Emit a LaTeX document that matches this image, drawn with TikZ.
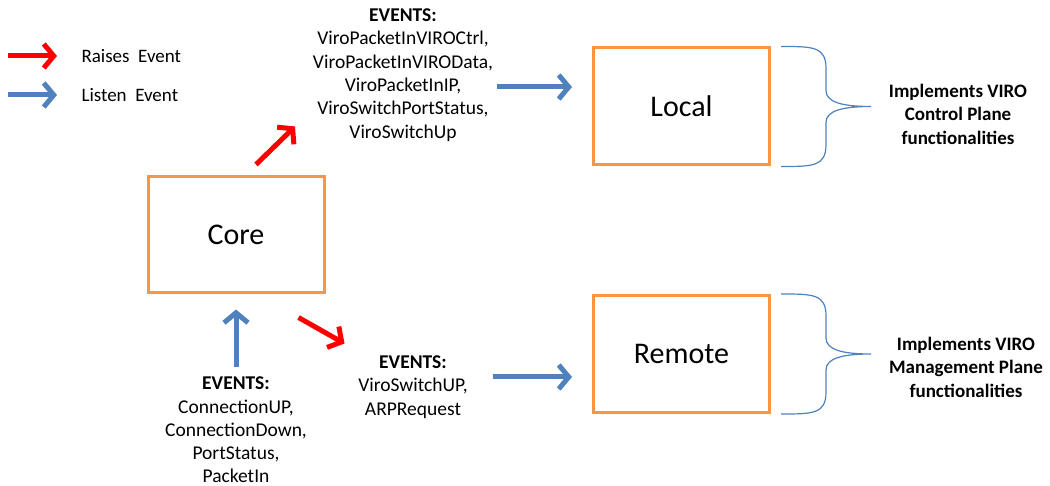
\documentclass[tikz,border=0pt]{standalone}
\usepackage{fontspec}
\setmainfont{Carlito}
\usetikzlibrary{arrows.meta,calc}
\definecolor{boxorange}{RGB}{247,150,70}
\definecolor{evblue}{RGB}{79,129,189}
\definecolor{evred}{RGB}{255,0,0}

\begin{document}
\begin{tikzpicture}[x=1pt,y=-1pt,
    module/.style={draw=boxorange, line width=3pt, minimum width=176pt,
      minimum height=117pt, font=\fontsize{30}{36}\selectfont},
    evlist/.style={align=center, font=\fontsize{19.5}{23.3}\selectfont},
    note/.style={align=center, font=\fontsize{19}{23.5}\selectfont\bfseries},
    keylbl/.style={anchor=west, font=\fontsize{19}{22}\selectfont},
    raise/.style={evred, line width=5pt, -{Straight Barb[length=10pt,width=24pt]}},
    listen/.style={evblue, line width=5pt, -{Straight Barb[length=10pt,width=24pt]}},
    brace/.style={evblue, line width=1.2pt}]
  \useasboundingbox (0,0) rectangle (1050,486);

  % Legend
  \coordinate (raisekey) at (8,56);
  \coordinate (listenkey) at (8,95);
  \node[keylbl] (raiselbl) at (78,56) {Raises\ \ Event};
  \node[keylbl] (listenlbl) at (78,95) {Listen\ \ Event};
  \draw[raise, shorten >=21pt] (raisekey) -- (raisekey -| raiselbl.west);
  \draw[listen, shorten >=21pt] (listenkey) -- (listenkey -| listenlbl.west);

  % Modules
  \node[module, minimum height=116pt] (core) at (236,235) {Core};
  \node[module] (local) at (681.5,106.5) {Local};
  \node[module] (remote) at (681.5,354) {Remote};

  % Event lists
  \node[evlist] (topev) at (403,75) {\textbf{EVENTS:}\\ViroPacketInVIROCtrl,\\ViroPacketInVIROData,\\
    ViroPacketInIP,\\ViroSwitchPortStatus,\\ViroSwitchUp};
  \node[evlist] (lowev) at (413,387) {\textbf{EVENTS:}\\ViroSwitchUP,\\ARPRequest};
  \node[evlist] (botev) at (236,430) {\textbf{EVENTS:}\\ConnectionUP,\\ConnectionDown,\\
    PortStatus,\\PacketIn};

  % Raised events
  \draw[raise] ([shift={(20pt,11pt)}]core.north) -- ++(39,-38);
  \draw[raise] ([shift={(-27pt,-23pt)}]core.south east) -- ++(46,26);

  % Listened events
  \draw[listen, shorten >=20pt] ([yshift=-12pt]topev.east) -- ([yshift=-12pt]topev.east -| local.west);
  \draw[listen, shorten <=22pt, shorten >=20pt] ([yshift=10pt]lowev.east) -- ([yshift=10pt]lowev.east -| remote.west);
  \draw[listen, shorten <=6pt, shorten >=15pt] (botev.north) -- (core.south);

  % Braces and notes
  \foreach \b in {local,remote} {
    \draw[brace] ($(\b.north east)+(10,0)$) .. controls +(32,0) and +(0,-22) .. ($(\b.north east)+(55,22)$)
      -- ($(\b.east)+(55,-16)$) .. controls +(0,12) and +(-28,0) .. ($(\b.east)+(100,0)$)
      .. controls +(-28,0) and +(0,-12) .. ($(\b.east)+(55,16)$)
      -- ($(\b.south east)+(55,-22)$) .. controls +(0,22) and +(32,0) .. ($(\b.south east)+(10,0)$);
  }
  \node[note] (locnote) at (958,114) {Implements VIRO\\Control Plane\\functionalities};
  \node[note] (remnote) at (966,367) {Implements VIRO\\Management Plane\\functionalities};
\end{tikzpicture}
\end{document}
